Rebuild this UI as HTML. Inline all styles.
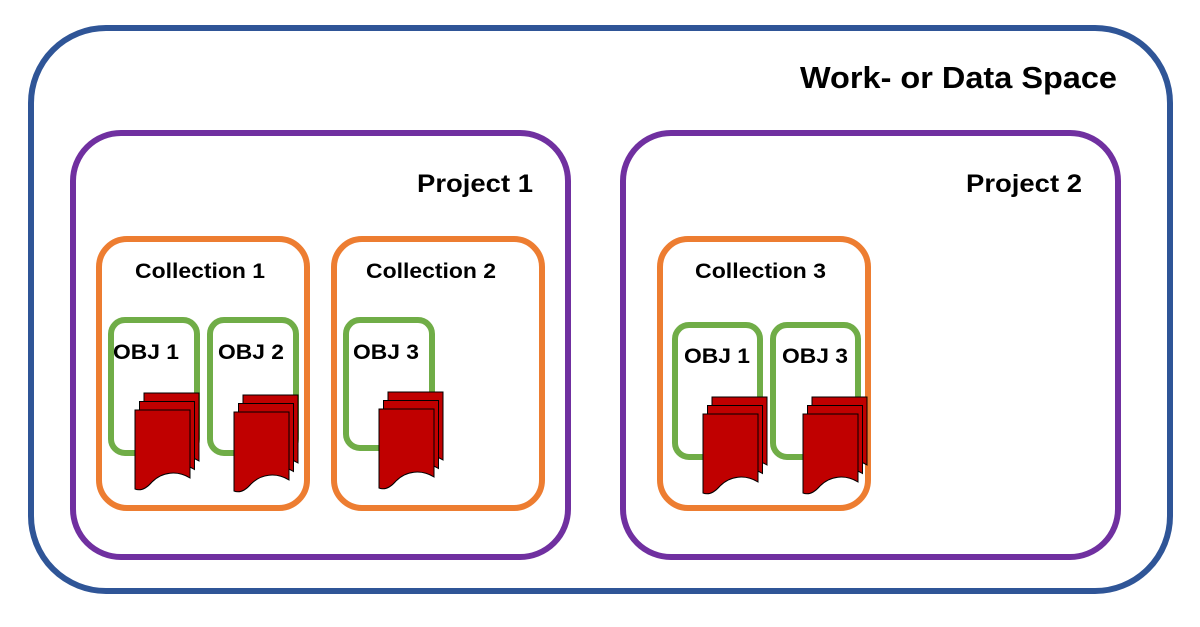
<!DOCTYPE html>
<html><head><style>html,body{margin:0;padding:0;background:#fff}svg{display:block}</style></head>
<body>
<svg width="1200" height="627" viewBox="0 0 1200 627" xmlns="http://www.w3.org/2000/svg">
<defs>
<g id="pg"><path d="M0,0 H55 V68 C42,60 27,62 17,72 C11,79 5,81 0,79 Z" fill="#c00000" stroke="#000" stroke-width="1"/></g>
<g id="doc">
<use href="#pg" x="9" y="-17"/>
<use href="#pg" x="4.5" y="-8.5"/>
<use href="#pg" x="0" y="0"/>
</g>
</defs>
<rect x="31" y="28" width="1139" height="563" rx="75" fill="none" stroke="#2f5597" stroke-width="6"/>
<text x="800" y="88" textLength="317" lengthAdjust="spacingAndGlyphs" font-family="Liberation Sans, sans-serif" font-weight="bold" font-size="31">Work- or Data Space</text>
<rect x="73" y="133" width="495" height="424" rx="48" fill="none" stroke="#7030a0" stroke-width="6"/>
<rect x="623" y="133" width="495" height="424" rx="48" fill="none" stroke="#7030a0" stroke-width="6"/>
<g font-family="Liberation Sans, sans-serif" font-weight="bold" font-size="25">
<text x="417" y="192" textLength="116" lengthAdjust="spacingAndGlyphs">Project 1</text>
<text x="966" y="192" textLength="116" lengthAdjust="spacingAndGlyphs">Project 2</text>
</g>
<g fill="none" stroke="#ed7d31" stroke-width="6">
<rect x="99" y="239" width="208" height="269" rx="28"/>
<rect x="334" y="239" width="208" height="269" rx="28"/>
<rect x="660" y="239" width="208" height="269" rx="28"/>
</g>
<g font-family="Liberation Sans, sans-serif" font-weight="bold" font-size="21">
<text x="135" y="278" textLength="130" lengthAdjust="spacingAndGlyphs">Collection 1</text>
<text x="366" y="278" textLength="130" lengthAdjust="spacingAndGlyphs">Collection 2</text>
<text x="695" y="278" textLength="131" lengthAdjust="spacingAndGlyphs">Collection 3</text>
</g>
<g fill="none" stroke="#70ad47" stroke-width="6">
<rect x="111" y="320" width="86" height="133" rx="14"/>
<rect x="210" y="320" width="86" height="133" rx="14"/>
<rect x="346" y="320" width="86" height="128" rx="14"/>
<rect x="675" y="325" width="85" height="132" rx="14"/>
<rect x="773" y="325" width="85" height="132" rx="14"/>
</g>
<g font-family="Liberation Sans, sans-serif" font-weight="bold" font-size="21">
<text x="113" y="359" textLength="66" lengthAdjust="spacingAndGlyphs">OBJ 1</text>
<text x="218" y="359" textLength="66" lengthAdjust="spacingAndGlyphs">OBJ 2</text>
<text x="353" y="359" textLength="66" lengthAdjust="spacingAndGlyphs">OBJ 3</text>
<text x="684" y="363" textLength="66" lengthAdjust="spacingAndGlyphs">OBJ 1</text>
<text x="782" y="363" textLength="66" lengthAdjust="spacingAndGlyphs">OBJ 3</text>
</g>
<use href="#doc" x="135" y="410"/>
<use href="#doc" x="234" y="412"/>
<use href="#doc" x="379" y="409"/>
<use href="#doc" x="703" y="414"/>
<use href="#doc" x="803" y="414"/>
</svg>
</body></html>
